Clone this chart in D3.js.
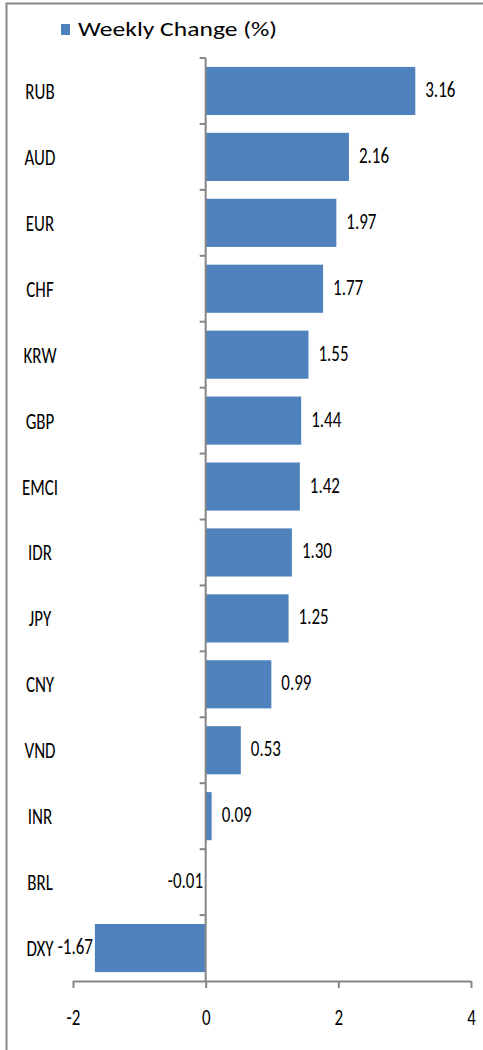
<!DOCTYPE html>
<html lang="en">
<head>
    <meta charset="UTF-8">
    <title>Weekly Change (%)</title>
    <script src="https://d3js.org/d3.v7.min.js"></script>
    <style>
        body {
            margin: 0;
            padding: 0;
            background: #fff;
            overflow: hidden;
        }
        text {
            font-family: Carlito, Calibri, Lato, sans-serif;
            fill: #000;
        }
    </style>
</head>
<body>
<div id="chart"></div>
<script>
    // data
    const categories = ["RUB", "AUD", "EUR", "CHF", "KRW", "GBP", "EMCI", "IDR", "JPY", "CNY", "VND", "INR", "BRL", "DXY"];
    const weeklyChange = [3.16, 2.16, 1.97, 1.77, 1.55, 1.44, 1.42, 1.30, 1.25, 0.99, 0.53, 0.09, -0.01, -1.67];
    const xTicks = [-2, 0, 2, 4];
    const seriesName = "Weekly Change (%)";

    const W = 483, H = 1050;
    const plot = { left: 73, right: 471, top: 58, bottom: 981 };
    const squeeze = 0.77;   // the source picture is squashed sideways

    const svg = d3.select("#chart")
        .append("svg")
        .attr("width", W)
        .attr("height", H);

    // chart area border (only left + top visible in the crop)
    svg.append("path")
        .attr("d", `M6.5,${H} V3.5 H${W}`)
        .attr("fill", "none")
        .attr("stroke", "#868686")
        .attr("stroke-width", 2);

    const x = d3.scaleLinear()
        .domain([-2, 4])
        .range([plot.left, plot.right]);

    const y = d3.scaleBand()
        .domain(categories)
        .range([plot.top, plot.bottom])
        .paddingInner(0.27)
        .paddingOuter(0.135);

    const data = categories.map((c, i) => ({ name: c, value: weeklyChange[i] }));

    // bars
    svg.selectAll(".bar")
        .data(data)
        .enter().append("rect")
        .attr("class", "bar")
        .attr("x", d => x(Math.min(0, d.value)))
        .attr("y", d => y(d.name))
        .attr("width", d => Math.abs(x(d.value) - x(0)))
        .attr("height", y.bandwidth())
        .attr("fill", "#4F81BD");

    // x axis
    const xAxis = svg.append("g")
        .attr("transform", `translate(0,${plot.bottom})`)
        .call(d3.axisBottom(x).tickValues(xTicks).tickFormat(d => String(d)).tickSize(7));
    xAxis.attr("font-size", 22);
    xAxis.select(".domain").attr("stroke", "#868686").attr("stroke-width", 2).attr("d", `M${plot.left},0.5H${plot.right}`);
    xAxis.selectAll(".tick line").attr("stroke", "#868686").attr("stroke-width", 2);
    xAxis.selectAll(".tick text")
        .attr("y", 44).attr("dy", 0)
        .attr("transform", `scale(${squeeze},1)`)
        .style("font-size", "22px")
        .attr("fill", "#000");

    // y axis at zero, ticks at band boundaries
    const bounds = d3.range(categories.length).map(i => plot.top + i * y.step());
    const yAxis = svg.append("g");
    yAxis.append("line")
        .attr("x1", x(0)).attr("x2", x(0))
        .attr("y1", plot.top).attr("y2", plot.bottom)
        .attr("stroke", "#868686").attr("stroke-width", 2);
    yAxis.selectAll(".ytick")
        .data(bounds)
        .enter().append("line")
        .attr("x1", x(0) - 6).attr("x2", x(0))
        .attr("y1", d => d).attr("y2", d => d)
        .attr("stroke", "#868686").attr("stroke-width", 2);

    // category labels
    svg.selectAll(".cat")
        .data(data)
        .enter().append("text")
        .attr("transform", d => `translate(40,${y(d.name) + y.bandwidth() / 2 + 8}) scale(${squeeze},1)`)
        .attr("text-anchor", "middle")
        .style("font-size", "22px")
        .text(d => d.name);

    // value labels
    svg.selectAll(".val")
        .data(data)
        .enter().append("text")
        .attr("transform", d => {
            const lx = d.value >= 0 ? x(d.value) + 10 : x(d.value) - 2;
            return `translate(${lx},${y(d.name) + y.bandwidth() / 2 + 6}) scale(${squeeze},1)`;
        })
        .attr("text-anchor", d => d.value >= 0 ? "start" : "end")
        .style("font-size", "22px")
        .text(d => d.value.toFixed(2));

    // legend
    const legend = svg.append("g").attr("transform", "translate(61,24)");
    legend.append("rect")
        .attr("width", 9).attr("height", 11)
        .attr("fill", "#4F81BD");
    legend.append("text")
        .attr("x", 17).attr("y", 12)
        .attr("textLength", 199)
        .attr("lengthAdjust", "spacingAndGlyphs")
        .style("font-size", "21px")
        .text(seriesName);
</script>
</body>
</html>
